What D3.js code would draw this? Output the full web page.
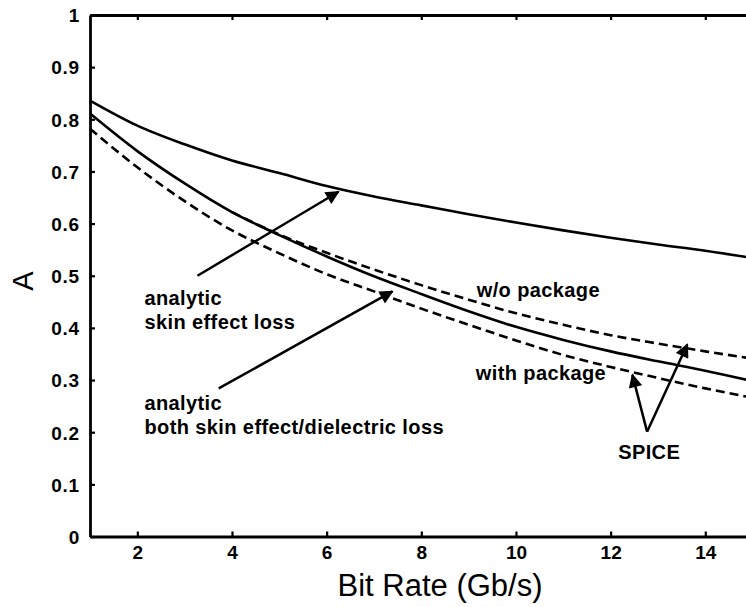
<!DOCTYPE html>
<html>
<head>
<meta charset="utf-8">
<script src="https://cdn.jsdelivr.net/npm/d3@7"></script>
<style>
  html, body { margin: 0; padding: 0; background: #fff; }
  svg { display: block; }
  .tick text { font-family: "Liberation Sans", Arial, Helvetica, sans-serif; font-weight: bold; font-size: 19px; fill: #000; }
  .note { font-family: "Liberation Sans", Arial, Helvetica, sans-serif; font-weight: bold; font-size: 20px; letter-spacing: 0.4px; fill: #000; }
</style>
</head>
<body>
<div id="chart"></div>
<script>
// bit rate in Gb/s
const bitRate = [1, 2, 3, 4, 5, 6, 7, 8, 9, 10, 11, 12, 13, 14, 15];
// analytic, skin effect loss only
const skinLoss = [0.836, 0.788, 0.752, 0.721, 0.697, 0.672, 0.652, 0.635, 0.618, 0.602, 0.587, 0.573, 0.560, 0.548, 0.534];
// analytic, skin effect + dielectric loss
const bothLoss = [0.811, 0.739, 0.677, 0.622, 0.578, 0.537, 0.499, 0.465, 0.432, 0.402, 0.377, 0.355, 0.336, 0.318, 0.298];
// SPICE w/o package (from 4 Gb/s, below that it sits on the analytic curve)
const spiceRate = [4, 5, 6, 7, 8, 9, 10, 11, 12, 13, 14, 15];
const spiceNoPkg = [0.622, 0.579, 0.544, 0.512, 0.482, 0.454, 0.428, 0.406, 0.386, 0.370, 0.355, 0.341];
// SPICE with package
const spiceWithPkg = [0.782, 0.708, 0.643, 0.587, 0.543, 0.503, 0.470, 0.437, 0.406, 0.376, 0.348, 0.325, 0.304, 0.284, 0.266];

const xTicks = [2, 4, 6, 8, 10, 12, 14];
const yTicks = [0, 0.1, 0.2, 0.3, 0.4, 0.5, 0.6, 0.7, 0.8, 0.9, 1];

// annotations, in data units
const notes = [
  {text: 'analytic', x: 2.15, y: 0.444},
  {text: 'skin effect loss', x: 2.15, y: 0.397},
  {text: 'analytic', x: 2.15, y: 0.242},
  {text: 'both skin effect/dielectric loss', x: 2.15, y: 0.197},
  {text: 'w/o package', x: 9.17, y: 0.459},
  {text: 'with package', x: 9.15, y: 0.301},
  {text: 'SPICE', x: 12.16, y: 0.149}
];
const arrows = [
  {from: [3.27, 0.50], to: [6.25, 0.661]},
  {from: [3.72, 0.284], to: [7.39, 0.470]},
  {from: [12.77, 0.201], to: [12.46, 0.310]},
  {from: [12.77, 0.201], to: [13.62, 0.368]}
];

const W = 746, H = 607;
const margin = {left: 90, top: 15, bottom: 72};

const svg = d3.select('#chart').append('svg').attr('width', W).attr('height', H);

const x = d3.scaleLinear().domain([1, 15]).range([margin.left, margin.left + 14 * 47.33]);
const y = d3.scaleLinear().domain([0, 1]).range([H - margin.bottom + 1.5, margin.top]);

svg.append('defs').append('marker')
  .attr('id', 'head')
  .attr('viewBox', '0 0 10 10')
  .attr('refX', 9).attr('refY', 5)
  .attr('markerWidth', 6).attr('markerHeight', 5.5)
  .attr('markerUnits', 'strokeWidth')
  .attr('orient', 'auto')
  .append('path').attr('d', 'M0,0L10,5L0,10Z').attr('fill', '#000');

// axes box, ticks pointing inward
const x0 = x(1), x1 = x(15), y0 = y(0), y1 = y(1);
const axisBottom = d3.axisBottom(x).tickValues(xTicks).tickSizeInner(-5).tickSizeOuter(0).tickPadding(9);
const axisLeft = d3.axisLeft(y).tickValues(yTicks).tickSizeInner(-5).tickSizeOuter(0).tickPadding(10)
  .tickFormat(d => d === 0 ? '0' : d === 1 ? '1' : d3.format('.1f')(d));
const axisTop = d3.axisTop(x).tickValues(xTicks).tickSizeInner(-5).tickSizeOuter(0).tickFormat('');
const axisRight = d3.axisRight(y).tickValues(yTicks).tickSizeInner(-6).tickSizeOuter(0).tickFormat('');

const gx = svg.append('g').attr('transform', `translate(0,${y0})`).call(axisBottom);
const gy = svg.append('g').attr('transform', `translate(${x0},0)`).call(axisLeft);
const gt = svg.append('g').attr('transform', `translate(0,${y1})`).call(axisTop);
const gr = svg.append('g').attr('transform', `translate(${x1},0)`).call(axisRight);
[gx, gy, gt, gr].forEach(g => {
  g.select('.domain').attr('stroke', '#000').attr('stroke-width', 2.8);
  g.selectAll('.tick line').attr('stroke', '#000').attr('stroke-width', 2.2);
});
gy.selectAll('.tick text').attr('dy', '0.36em').style('letter-spacing', '0.8px');

const line = d3.line().x(d => x(d[0])).y(d => y(d[1])).curve(d3.curveMonotoneX);
const series = [
  {xs: bitRate, ys: skinLoss, dash: null},
  {xs: bitRate, ys: bothLoss, dash: null},
  {xs: spiceRate, ys: spiceNoPkg, dash: '9,5'},
  {xs: bitRate, ys: spiceWithPkg, dash: '9,5'}
];
svg.append('g').selectAll('path')
  .data(series)
  .enter().append('path')
  .attr('d', s => line(s.xs.map((v, i) => [v, s.ys[i]])))
  .attr('fill', 'none')
  .attr('stroke', '#000')
  .attr('stroke-width', 2.6)
  .attr('stroke-dasharray', s => s.dash);

svg.append('g').selectAll('line')
  .data(arrows)
  .enter().append('line')
  .attr('x1', d => x(d.from[0])).attr('y1', d => y(d.from[1]))
  .attr('x2', d => x(d.to[0])).attr('y2', d => y(d.to[1]))
  .attr('stroke', '#000').attr('stroke-width', 2.5)
  .attr('marker-end', 'url(#head)');

svg.append('g').selectAll('text')
  .data(notes)
  .enter().append('text')
  .attr('class', 'note')
  .attr('x', d => x(d.x)).attr('y', d => y(d.y))
  .text(d => d.text);

// axis titles
svg.append('text')
  .attr('x', 440).attr('y', 596)
  .attr('text-anchor', 'middle')
  .style('font-family', '"Liberation Sans", Arial, Helvetica, sans-serif')
  .style('font-size', '31px')
  .text('Bit Rate (Gb/s)');
svg.append('text')
  .attr('transform', `translate(33,281) rotate(-90)`)
  .attr('text-anchor', 'middle')
  .style('font-family', '"Liberation Sans", Arial, Helvetica, sans-serif')
  .style('font-size', '29px')
  .text('A');
</script>
</body>
</html>
